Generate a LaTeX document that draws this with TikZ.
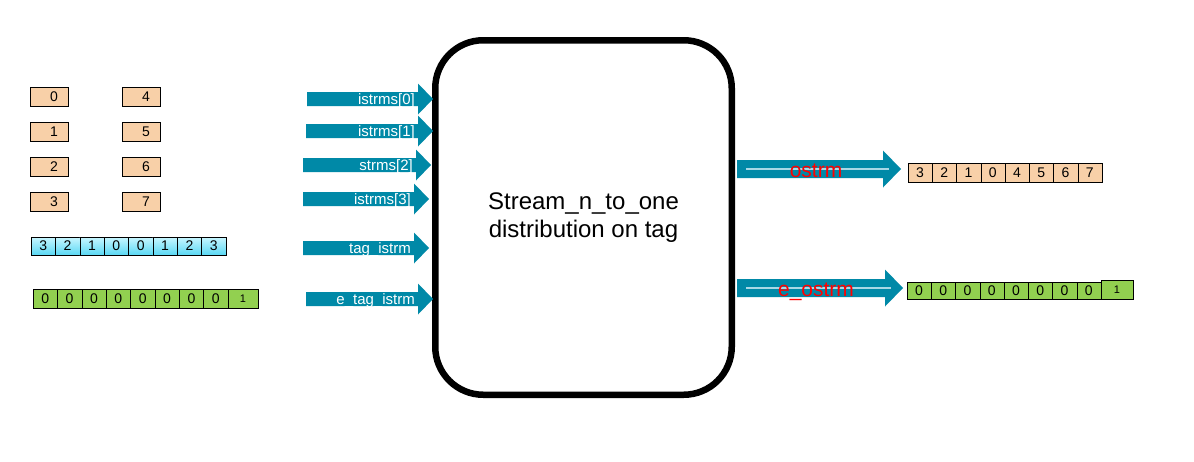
\documentclass[tikz,border=0pt]{standalone}
\usepackage{fontspec}
\setmainfont{Liberation Sans}
\usetikzlibrary{positioning}

\definecolor{boxorange}{HTML}{F8D0A8}
\definecolor{boxgreen}{HTML}{92D050}
\definecolor{celltop}{HTML}{C8F6FF}
\definecolor{cellbottom}{HTML}{5AD8F4}
\definecolor{streamteal}{HTML}{0089A7}
\definecolor{streamline}{HTML}{A8D8E6}

\begin{document}
\begin{tikzpicture}[x=1pt, y=-1pt,
    	core/.style={rectangle, draw=black, line width=6.5pt, rounded corners=48pt, minimum width=296.5pt, minimum height=354.5pt, align=center, font=\fontsize{24}{28}\selectfont},
    	tagbox/.style={rectangle, draw=black, fill=boxorange, minimum width=38pt, minimum height=19pt, inner sep=0pt, font=\fontsize{14}{14}\selectfont},
    	cell/.style={rectangle, draw=black, minimum width=24.4pt, minimum height=18pt, inner sep=0pt, font=\fontsize{14}{14}\selectfont},
    	bluecell/.style={cell, top color=celltop, bottom color=cellbottom},
    	greencell/.style={cell, fill=boxgreen},
    	orangecell/.style={cell, fill=boxorange},
    	inlabel/.style={anchor=base east, inner sep=0pt, text=white, font=\fontsize{15}{15}\selectfont},
    	outlabel/.style={anchor=base, inner sep=0pt, text=red, font=\fontsize{21}{21}\selectfont},
    	stream/.style={fill=streamteal},
    	streamhl/.style={draw=streamline, line width=1.5pt}
    	]
    	\useasboundingbox (0,0) rectangle (1194,461);
    	
    	% central block
    	\node (core) [core] at (583.5,217.5) {Stream\_n\_to\_one\\distribution on tag};
    	
    	% input data on the left
    	\foreach \v [count=\i from 0] in {0,1,2,3}
    		\node (dataA\i) [tagbox] at (49,{96.5+\i*35}) {\hspace{10pt}\v};
    	\foreach \v [count=\i from 0] in {4,5,6,7}
    		\node (dataB\i) [tagbox] at (141,{96.5+\i*35}) {\hspace{10pt}\v};
    	\foreach \v [count=\i from 0] in {3,2,1,0,0,1,2,3}
    		\node (tag\i) [bluecell] at ({43.2+\i*24.375},246) {\v};
    	\foreach \v [count=\i from 0] in {0,0,0,0,0,0,0,0}
    		\node (etag\i) [greencell, minimum height=19pt] at ({45.2+\i*24.375},298.5) {\v};
    	\node (etag8) [greencell, minimum width=30pt, minimum height=19pt, font=\fontsize{11}{11}\selectfont] at (243,298.5) {1};
    	
    	% input streams
    	\foreach \y/\xs/\xt/\lab [count=\k] in {99/307/433/istrms[0], 131/306/433/istrms[1], 165/303/431/strms[2], 199/303/429/istrms[3], 248/303/429/tag\_istrm, 299/306/433/e\_tag\_istrm} {
    		\fill[stream] (\xs,\y-7) -- (\xt-15,\y-7) -- (\xt-15,\y-15.5) -- (\xt,\y) -- (\xt-15,\y+15.5) -- (\xt-15,\y+7) -- (\xs,\y+7) -- cycle;
    		\node (in\k) [inlabel] at (\xt-18,\y+5) {\lab};
    	}
    	
    	% output streams
    	\foreach \y/\xt/\lab [count=\k] in {169/901/ostrm, 288/903/e\_ostrm} {
    		\fill[stream] (737,\y-9) -- (\xt-18,\y-9) -- (\xt-18,\y-18.5) -- (\xt,\y) -- (\xt-18,\y+18.5) -- (\xt-18,\y+9) -- (737,\y+9) -- cycle;
    		\draw[streamhl] (746,\y) -- (\xt-12,\y);
    		\node (out\k) [outlabel] at (816,\y+8) {\lab};
    	}
    	
    	% output data on the right
    	\foreach \v [count=\i from 0] in {3,2,1,0,4,5,6,7}
    		\node (ostrm\i) [orangecell, minimum width=24.25pt, minimum height=19pt] at ({920.1+\i*24.25},172.5) {\v};
    	\foreach \v [count=\i from 0] in {0,0,0,0,0,0,0,0}
    		\node (eostrm\i) [greencell, minimum width=24.25pt, minimum height=17pt] at ({919.1+\i*24.25},290.5) {\v};
    	\node (eostrm8) [greencell, minimum width=32pt, minimum height=19pt, font=\fontsize{11}{11}\selectfont] at (1117,289.5) {1};
    	
    \end{tikzpicture}
\end{document}
